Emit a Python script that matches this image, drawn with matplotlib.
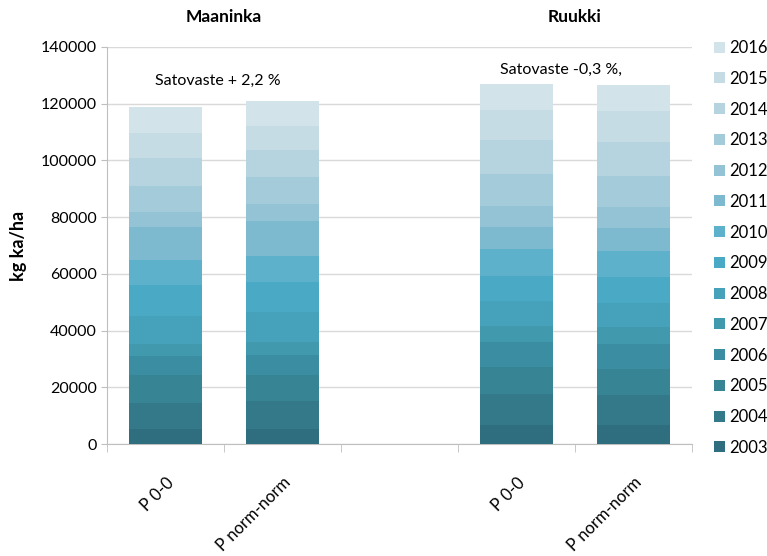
import matplotlib.pyplot as plt
import numpy as np

plt.rcParams['font.family'] = ['Lato', 'DejaVu Sans']

# Categories (middle slot is an empty spacer between the two sites)
categories = ["P 0-0", "P norm-norm", "", "P 0-0", "P norm-norm"]
years = [str(y) for y in range(2003, 2017)]

# Yield per year, kg ka/ha (bottom = 2003)
maaninka_p00 = [5200, 9200, 9800, 6700, 4500, 9800, 10700, 8900, 11800, 5200, 9300, 9800, 8900, 8900]
maaninka_pnorm = [5400, 9600, 9200, 7300, 4600, 10300, 10600, 9200, 12300, 6000, 9800, 9500, 8200, 9100]
ruukki_p00 = [6800, 10900, 9300, 8800, 5900, 8600, 9100, 9200, 7800, 7400, 11300, 12200, 10400, 9200]
ruukki_pnorm = [6800, 10400, 9400, 8700, 6100, 8400, 9100, 9300, 7900, 7600, 10800, 12000, 10800, 9300]

colors = ["#2f6e7f", "#33798a", "#378494", "#3b8ea2", "#4199ae", "#46a2ba", "#4aa9c4",
          "#5db1cb", "#7db9cf", "#93c3d5", "#a4cbda", "#b6d4df", "#c5dce5", "#d2e3ea"]

# columns of data, None for the empty slot
columns = [maaninka_p00, maaninka_pnorm, None, ruukki_p00, ruukki_pnorm]

fig = plt.figure(figsize=(7.67, 5.56), dpi=100)
ax = fig.add_axes([0.1395, 0.2014, 0.7627, 0.7141])

x = np.arange(len(categories))
bottoms = np.zeros(len(categories))
handles = []
for i, year in enumerate(years):
    vals = np.array([c[i] if c is not None else 0 for c in columns], dtype=float)
    h = ax.bar(x, vals, width=0.62, bottom=bottoms, color=colors[i],
               linewidth=0, label=year, zorder=3)
    bottoms += vals
    handles.append(h)

ax.set_xlim(-0.5, 4.5)
ax.set_ylim(0, 140000)
ax.set_yticks(np.arange(0, 140001, 20000))
ax.grid(axis="y", color="#d9d9d9", linewidth=1.0, zorder=0)
for s in ["top", "right"]:
    ax.spines[s].set_visible(False)
for s in ["left", "bottom"]:
    ax.spines[s].set_color("#bfbfbf")
ax.tick_params(axis="y", length=4, color="#bfbfbf", labelsize=11.5)

ax.set_xticks(x)
ax.set_xticklabels(categories, rotation=45, ha="right", rotation_mode="anchor", fontsize=12)
ax.tick_params(axis="x", which="major", length=0, pad=22)
ax.set_xticks(np.arange(-0.5, 4.6, 1), minor=True)
ax.tick_params(axis="x", which="minor", length=6, color="#bfbfbf")

ax.set_ylabel("kg ka/ha", fontsize=13, fontweight="bold", labelpad=10)

ax.text(0.5, 1.055, "Maaninka", transform=ax.get_xaxis_transform(), ha="center",
        va="bottom", fontsize=12.5, fontweight="bold")
ax.text(3.5, 1.055, "Ruukki", transform=ax.get_xaxis_transform(), ha="center",
        va="bottom", fontsize=12.5, fontweight="bold")
ax.text(0.45, 128000, "Satovaste + 2,2 %", ha="center", va="center", fontsize=11.5)
ax.text(3.38, 132000, "Satovaste -0,3 %,", ha="center", va="center", fontsize=11.5)

fig.legend(handles[::-1], years[::-1], loc="upper left", bbox_to_anchor=(0.931, 0.928),
           frameon=False, fontsize=12, handlelength=0.65, handleheight=0.65,
           handletextpad=0.25, labelspacing=0.885, borderaxespad=0, borderpad=0)

fig.savefig("out.png", dpi=100)
